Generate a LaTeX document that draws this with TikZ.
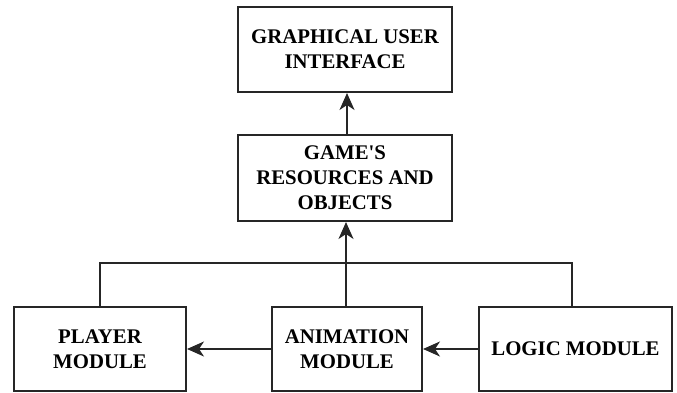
\documentclass[tikz,border=0pt]{standalone}
\usepackage{fontspec}
\setmainfont{Liberation Serif}
\usetikzlibrary{arrows.meta}
\begin{document}
\begin{tikzpicture}[x=1pt,y=1pt,
  block/.style={draw=black!85,line width=2pt,fill=white,align=center,
    font=\fontsize{20.8}{25}\selectfont\bfseries,inner sep=0pt},
  link/.style={draw=black!85,line width=2pt},
  flow/.style={link,-{Stealth[length=17pt,width=15pt,inset=5pt]}}]
\useasboundingbox (0,0) rectangle (677,392);
% boxes, centred on their drawn positions
\node[block,minimum width=214pt,minimum height=85pt] (gui) at (345,342.5) {GRAPHICAL USER\\INTERFACE};
\node[block,minimum width=214pt,minimum height=86pt] (res) at (345,214) {GAME\textquotesingle S\\RESOURCES AND\\OBJECTS};
\node[block,minimum width=172pt,minimum height=84pt] (player) at (100,43) {PLAYER\\MODULE};
\node[block,minimum width=150pt,minimum height=84pt] (anim) at (347,43) {ANIMATION\\MODULE};
\node[block,minimum width=193pt,minimum height=84pt] (logic) at (575.5,43) {LOGIC MODULE};
% shared bus above the modules
\coordinate (busL) at (100,129);
\coordinate (busR) at (572,129);
\draw[link] (player.north) -- (busL) -- (busR) -- (busR |- logic.north);
\draw[flow] (anim.north -| 346,0) -- (res.south -| 346,0);
\draw[flow] (res.north -| 347,0) -- (gui.south -| 347,0);
\draw[flow] (anim.west) -- (player.east);
\draw[flow] (logic.west) -- (anim.east);
\end{tikzpicture}
\end{document}
